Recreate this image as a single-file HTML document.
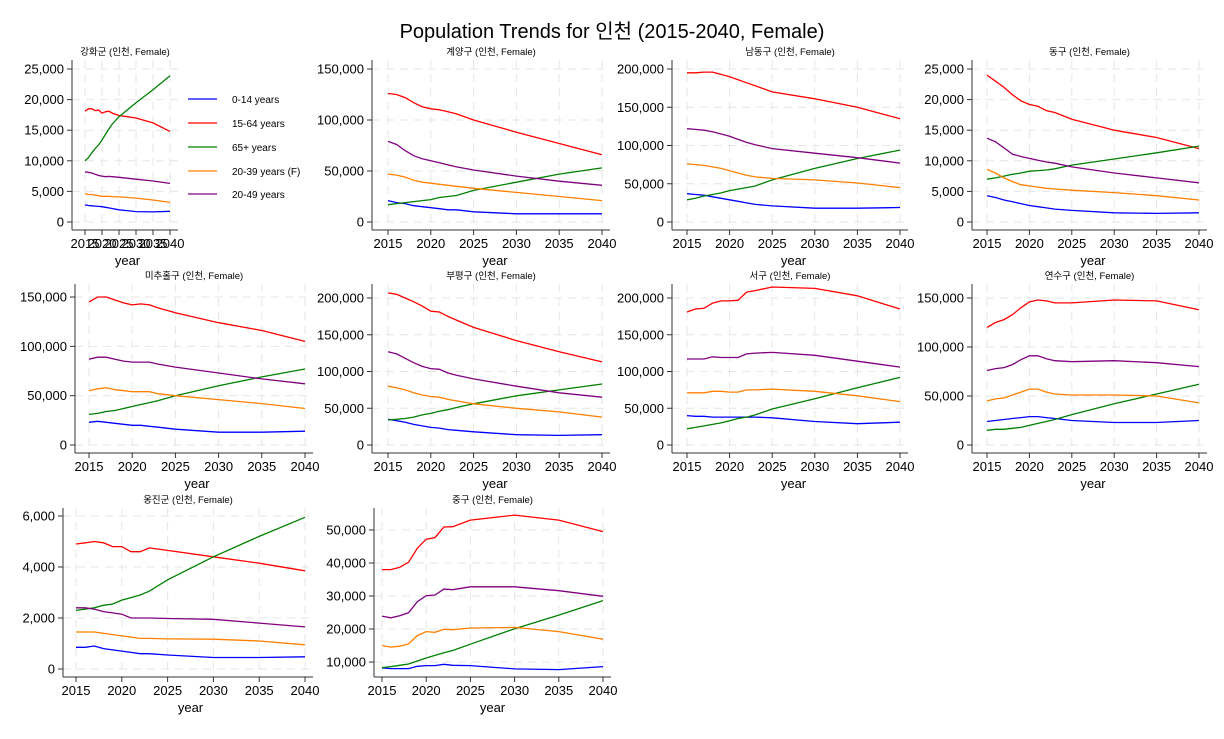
<!DOCTYPE html>
<html><head><meta charset="utf-8">
<style>
body{margin:0;background:#fff;}
svg text{font-family:"Liberation Sans","Noto Sans CJK KR",sans-serif;}
</style></head>
<body>
<svg id="chart" width="1224" height="734" xmlns="http://www.w3.org/2000/svg">
<rect width="1224" height="734" fill="#fff"/>
<text x="612" y="38" text-anchor="middle" font-size="20">Population Trends for 인천 (2015-2040, Female)</text>
</svg>
<script>
const years=[2015,2016,2017,2018,2019,2020,2021,2022,2023,2025,2030,2035,2040];
const seriesNames=["0-14 years","15-64 years","65+ years","20-39 years (F)","20-49 years"];
const seriesColors=["#0000ff","#ff0000","#008000","#ff8000","#800080"];
const regionNames=["강화군","계양구","남동구","동구","미추홀구","부평구","서구","연수구","옹진군","중구"];
const ganghwa=[[2800,2700,2650,2600,2550,2500,2400,2300,2200,2000,1700,1650,1750],[18100,18500,18500,18200,18300,17800,18000,18100,17800,17400,17000,16200,14800],[10000,10500,11300,12000,12600,13400,14300,15200,16000,17200,19500,21600,23900],[4600,4500,4500,4400,4300,4200,4200,4200,4150,4100,3900,3600,3200],[8200,8100,8000,7800,7600,7500,7400,7450,7400,7300,7000,6700,6300]];
const gyeyang=[[21000,19000,18000,16000,15000,14000,13000,12000,12000,10000,8000,8000,8000],[126000,125000,122000,117000,113000,111000,110000,108000,106000,100000,88000,77000,66000],[17000,18000,19000,20000,21000,22000,24000,25000,26000,31000,39000,47000,53000],[47000,46000,44000,41000,39000,38000,37000,36000,35000,33000,29000,25000,21000],[79000,76000,70000,65000,62000,60000,58000,56000,54000,51000,45000,40000,36000]];
const namdong=[[37000,36000,35000,33000,31000,29000,27000,25000,23000,21000,18000,18000,19000],[195000,195000,196000,196000,193000,190000,186000,182000,178000,170000,161000,150000,135000],[29000,31000,34000,36000,38000,41000,43000,45000,47000,55000,70000,83000,94000],[76000,75000,74000,72000,70000,67000,64000,61000,59000,57000,55000,51000,45000],[122000,121000,120000,118000,115000,112000,108000,104000,101000,96000,90000,84000,77000]];
const donggu=[[4300,4000,3600,3300,3000,2700,2500,2300,2100,1900,1500,1400,1500],[24000,23000,22000,20800,19800,19200,18900,18200,17900,16800,15000,13800,12000],[7000,7200,7500,7800,8000,8300,8400,8500,8700,9300,10300,11300,12400],[8600,8000,7200,6600,6100,5900,5700,5500,5400,5200,4800,4300,3600],[13700,13100,12100,11100,10700,10400,10100,9800,9600,9000,8000,7200,6400]];
const michuhol=[[23000,24000,23000,22000,21000,20000,20000,19000,18000,16000,13000,13000,14000],[145000,150000,150000,147000,144000,142000,143000,142000,139000,134000,124000,116000,105000],[31000,32000,34000,35000,37000,39000,41000,43000,45000,50000,60000,69000,77000],[55000,57000,58000,56000,55000,54000,54000,54000,52000,50000,46000,42000,37000],[87000,89000,89000,87000,85000,84000,84000,84000,82000,79000,73000,67000,62000]];
const bupyeong=[[35000,33000,31000,28000,26000,24000,23000,21000,20000,18000,14000,13000,14000],[207000,205000,200000,195000,189000,182000,181000,175000,170000,160000,142000,127000,113000],[34000,35000,36000,38000,41000,43000,46000,48000,51000,56000,67000,75000,83000],[80000,78000,75000,71000,68000,66000,65000,62000,60000,56000,50000,45000,38000],[127000,124000,118000,112000,107000,104000,103000,98000,95000,90000,80000,71000,65000]];
const seogu=[[40000,39000,39000,38000,38000,38000,38000,38000,38000,37000,32000,29000,31000],[181000,185000,186000,193000,196000,196000,197000,208000,210000,215000,213000,203000,185000],[22000,24000,26000,28000,30000,33000,36000,38000,41000,49000,63000,78000,92000],[71000,71000,71000,73000,73000,72000,72000,75000,75000,76000,73000,67000,59000],[117000,117000,117000,120000,119000,119000,119000,124000,125000,126000,122000,114000,106000]];
const yeonsu=[[24000,25000,26000,27000,28000,29000,29000,28000,27000,25000,23000,23000,25000],[120000,125000,128000,133000,140000,146000,148000,147000,145000,145000,148000,147000,138000],[15000,16000,16000,17000,18000,20000,22000,24000,26000,31000,42000,52000,62000],[45000,47000,48000,51000,54000,57000,57000,54000,52000,51000,51000,50000,43000],[76000,78000,79000,82000,87000,91000,91000,88000,86000,85000,86000,84000,80000]];
const ongjin=[[850,850,900,800,750,700,650,600,600,550,450,450,480],[4900,4950,5000,4950,4800,4800,4600,4600,4750,4650,4400,4150,3850],[2300,2350,2400,2500,2550,2700,2800,2900,3050,3500,4400,5200,5950],[1450,1450,1450,1400,1350,1300,1250,1200,1200,1180,1170,1100,950],[2400,2400,2350,2250,2200,2150,2000,2000,2000,1980,1950,1800,1650]];
const junggu=[[8200,8000,8000,8000,8700,8900,8900,9300,9000,8900,7900,7700,8600],[38000,38000,38700,40200,44500,47200,47700,50900,51000,53000,54500,53000,49500],[8300,8600,9000,9400,10300,11200,12000,12800,13500,15400,20100,24200,28600],[15000,14500,14800,15500,18000,19200,19000,19900,19800,20300,20500,19200,16900],[23900,23400,24000,24900,28300,30100,30300,32100,31900,32800,32800,31600,29900]];
const xTicks=[2015,2020,2025,2030,2035,2040];
const yTicks1=[0,5000,10000,15000,20000,25000];
const yTicks2=[0,50000,100000,150000];
const yTicks3=[0,50000,100000,150000,200000];
const yTicks9=[0,2000,4000,6000];
const yTicks10=[10000,20000,30000,40000,50000];

const NS="http://www.w3.org/2000/svg";
const svg=document.getElementById('chart');
function mk(tag,attrs,parent){const e=document.createElementNS(NS,tag);for(const k in attrs)e.setAttribute(k,attrs[k]);(parent||svg).appendChild(e);return e;}

const panels=[
 {name:regionNames[0],data:ganghwa,ticks:yTicks1,ax:72,x0:85,x1:170,v0:0,p0:222,v1:25000,p1:69,row:0},
 {name:regionNames[1],data:gyeyang,ticks:yTicks2,ax:372,x0:388,x1:602,v0:0,p0:222,v1:150000,p1:69,row:0},
 {name:regionNames[2],data:namdong,ticks:yTicks3,ax:672,x0:687,x1:900,v0:0,p0:222,v1:200000,p1:69,row:0},
 {name:regionNames[3],data:donggu,ticks:yTicks1,ax:972,x0:987,x1:1199,v0:0,p0:222,v1:25000,p1:69,row:0},
 {name:regionNames[4],data:michuhol,ticks:yTicks2,ax:75,x0:89,x1:305,v0:0,p0:445,v1:150000,p1:297,row:1},
 {name:regionNames[5],data:bupyeong,ticks:yTicks3,ax:372,x0:388,x1:602,v0:0,p0:445,v1:200000,p1:298,row:1},
 {name:regionNames[6],data:seogu,ticks:yTicks3,ax:672,x0:687,x1:900,v0:0,p0:445,v1:200000,p1:298,row:1},
 {name:regionNames[7],data:yeonsu,ticks:yTicks2,ax:972,x0:987,x1:1199,v0:0,p0:445,v1:150000,p1:298,row:1},
 {name:regionNames[8],data:ongjin,ticks:yTicks9,ax:63,x0:76,x1:305,v0:0,p0:669,v1:6000,p1:516,row:2},
 {name:regionNames[9],data:junggu,ticks:yTicks10,ax:374,x0:382,x1:603,v0:10000,p0:662,v1:50000,p1:530,row:2}
];
const rowTop=[60,284,508], rowBot=[230,453,677], rowTitle=[55,279,503];

panels.forEach((p,pi)=>{
  const g=mk('g',{});
  
  
  const X=y=>p.x0+(y-2015)*(p.x1-p.x0)/25;
  const Y=v=>p.p0+(v-p.v0)*(p.p1-p.p0)/(p.v1-p.v0);
  const top=rowTop[p.row], bot=rowBot[p.row], right=p.x1+8;
  // grid
  p.ticks.forEach(t=>{const l=mk('line',{x1:p.ax,x2:right,y1:Y(t),y2:Y(t),stroke:'#e6e6e6','stroke-dasharray':'8,6','stroke-width':1},g);});
  xTicks.forEach(t=>{const l=mk('line',{x1:X(t),x2:X(t),y1:top,y2:bot,stroke:'#e6e6e6','stroke-dasharray':'8,6','stroke-width':1},g);});
  // axes
  const ya=mk('line',{x1:p.ax,x2:p.ax,y1:top,y2:bot,stroke:'#333','stroke-width':1},g);
  
  const xa=mk('line',{x1:p.ax,x2:right,y1:bot,y2:bot,stroke:'#333','stroke-width':1},g);
  
  p.ticks.forEach(t=>{
    mk('line',{x1:p.ax-5,x2:p.ax,y1:Y(t),y2:Y(t),stroke:'#333'},g);
    const tx=mk('text',{x:p.ax-8,y:Y(t)+4.5,'text-anchor':'end','font-size':13},g);
    tx.textContent=t.toLocaleString('en-US');
    
  });
  xTicks.forEach(t=>{
    mk('line',{x1:X(t),x2:X(t),y1:bot,y2:bot+5,stroke:'#333'},g);
    const tx=mk('text',{x:X(t),y:bot+18,'text-anchor':'middle','font-size':13},g);
    tx.textContent=t;
    
  });
  const xt=mk('text',{x:(p.x0+p.x1)/2,y:bot+35,'text-anchor':'middle','font-size':13},g);
  xt.textContent='year';
  
  const tt=mk('text',{x:(p.ax+right)/2,y:rowTitle[p.row],'text-anchor':'middle','font-size':9.5},g);
  tt.textContent=p.name+' (인천, Female)';
  
  p.data.forEach((vals,si)=>{
    const pts=vals.map((v,i)=>X(years[i]).toFixed(1)+','+Y(v).toFixed(1)).join(' ');
    const pl=mk('polyline',{points:pts,fill:'none',stroke:seriesColors[si],'stroke-width':1.3},g);
    
    
  });
});
// legend
const lg=mk('g',{});


const legY=[99,123,147,171,194];
seriesNames.forEach((n,i)=>{
  const e=mk('g',{},lg);
  
  
  mk('line',{x1:188,x2:217,y1:legY[i],y2:legY[i],stroke:seriesColors[i],'stroke-width':1.3},e);
  const t=mk('text',{x:232,y:legY[i]+4,'font-size':10},e);
  t.textContent=n;
});
</script>
</body></html>
